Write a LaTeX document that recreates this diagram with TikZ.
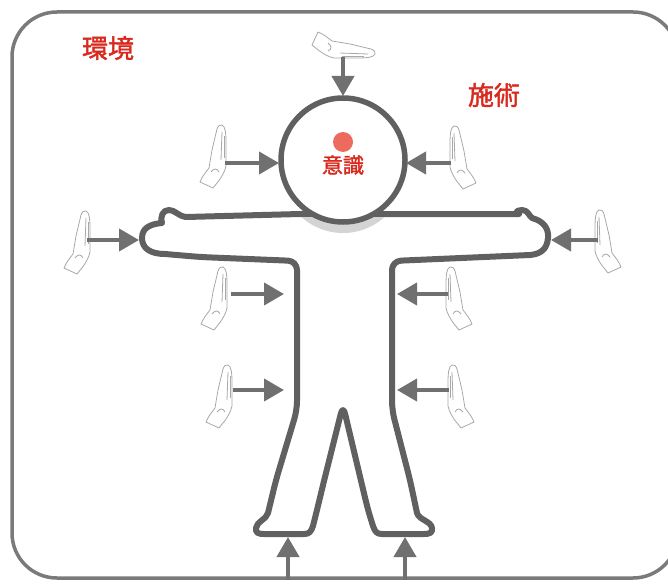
\documentclass[tikz,border=0pt]{standalone}
\usepackage{fontspec}
\newfontfamily\cjk{Noto Sans CJK JP}[FakeBold=1.6]
\usetikzlibrary{arrows.meta}
\definecolor{framegray}{HTML}{7A7A7A}
\definecolor{bodygray}{HTML}{606060}
\definecolor{arrowgray}{HTML}{707070}
\definecolor{handgray}{HTML}{A8A8A8}
\definecolor{shadegray}{HTML}{D4D4D4}
\definecolor{labelred}{HTML}{D9291E}
\definecolor{dotred}{HTML}{EC6A5E}
\tikzset{
  frameline/.style={draw=framegray, line width=3.5pt, rounded corners=45pt},
  bodyline/.style={draw=bodygray, line width=6pt, line join=round},
  push/.style={draw=arrowgray, line width=4pt, -{Triangle[length=20pt,width=22pt]}},
  handline/.style={draw=handgray, line width=0.8pt, line join=round, fill=white},
  label/.style={text=labelred, font=\cjk\fontsize{26}{26}\selectfont, inner sep=0pt},
  hand/.pic={
    \draw[handline] (8,-31) .. controls (11,-30) and (12,-24) .. (12,-14)
      -- (12,10) .. controls (11,15) and (8,21) .. (3,27) -- (-1,32) -- (-14,26)
      .. controls (-12,21) and (-9,17) .. (-5,12) -- (-2,-6) -- (3,-27)
      .. controls (4,-30) and (6,-32) .. (8,-31) -- cycle;
    \draw[handline] (8,-24) -- (7,4);
    \draw[handline] (10,-20) -- (10,2);
    \draw[handline] (-3,16) .. controls (0,12) and (3,12) .. (5,16);
  }
}
\begin{document}
\begin{tikzpicture}[x=1pt,y=-1pt]
  \useasboundingbox (0,0) rectangle (668,583);
  % outer frame
  \draw[frameline] (12,12) rectangle (678,578);

  % labels
  \node[label] (env) at (108,48) {環境};
  \node[label] (treat) at (494,95) {施術};

  % body outline
  \draw[bodyline]
    (297,300) [rounded corners=9pt] -- (297,261) -- (200,257)
    [sharp corners] -- (165,254)
    .. controls (150,254) and (142,248) .. (142,238)
    .. controls (142,228) and (150,224) .. (162,223)
    .. controls (160,216) and (163,210) .. (169,210)
    .. controls (175,210) and (178,216) .. (186,217)
    [rounded corners=9pt] -- (300,214) -- (385,214) -- (510,214)
    [sharp corners] .. controls (514,214) and (516,210) .. (522,210)
    .. controls (528,210) and (529,216) .. (532,218)
    .. controls (543,221) and (549,228) .. (548,238)
    .. controls (547,249) and (541,254) .. (530,255)
    [rounded corners=9pt] -- (392,261) -- (392,410) -- (410,480)
    [sharp corners] -- (417,513)
    .. controls (419,520) and (431,521) .. (432,528)
    .. controls (433,533) and (429,534) .. (424,534)
    -- (382,534) .. controls (377,534) and (375,532) .. (373,526)
    [rounded corners=9pt] -- (368,510) -- (362,485) -- (343,405)
    -- (323,485) -- (317,510) [sharp corners] -- (313,526)
    .. controls (311,532) and (309,534) .. (304,534)
    -- (264,534) .. controls (259,534) and (255,533) .. (256,528)
    .. controls (257,521) and (266,520) .. (268,513)
    [rounded corners=9pt] -- (276,480) -- (297,410) -- cycle;

  % neck shadow and head
  \begin{scope}
    \clip (250,217) rectangle (440,245);
    \fill[shadegray] (343,171) circle[radius=62];
  \end{scope}
  \draw[draw=bodygray, line width=5.5pt, fill=white] (343,160) circle[radius=62];
  \coordinate (headtop) at (343,96);
  \coordinate (headleft) at (279,163);
  \coordinate (headright) at (406,163);
  \fill[dotred] (343,142) circle[radius=10];
  \node[label, font=\cjk\fontsize{21}{21}\selectfont] (mind) at (343,165) {意識};

  % hands
  \pic (hTop) at (344,46) [rotate=-90] {hand};
  \pic (hHeadL) at (214,156) {hand};
  \pic (hHeadR) [xscale=-1] at (462,157) {hand};
  \pic (hArmL) at (78,242) {hand};
  \pic (hArmR) [xscale=-1] at (607,241) {hand};
  \pic (hBodyLU) at (215,298) {hand};
  \pic (hBodyRU) [xscale=-1] at (458,298) {hand};
  \pic (hBodyLL) at (220,396) {hand};
  \pic (hBodyRL) [xscale=-1] at (460,396) {hand};

  % arrow anchors
  \coordinate (aTop) at (343,57);
  \coordinate (aHeadL) at (225,163);
  \coordinate (aHeadR) at (451,163);
  \coordinate (aArmL) at (87,240);
  \coordinate (tArmL) at (139,240);
  \coordinate (aArmR) at (598,240);
  \coordinate (tArmR) at (551,240);
  \coordinate (aBodyLU) at (231,294);
  \coordinate (tBodyLU) at (284,294);
  \coordinate (aBodyRU) at (448,294);
  \coordinate (tBodyRU) at (397,294);
  \coordinate (aBodyLL) at (233,390);
  \coordinate (tBodyLL) at (284,390);
  \coordinate (aBodyRL) at (449,390);
  \coordinate (tBodyRL) at (397,390);
  \coordinate (aFootL) at (288,580);
  \coordinate (tFootL) at (288,537);
  \coordinate (aFootR) at (405,580);
  \coordinate (tFootR) at (405,537);

  % pushing arrows
  \draw[push] (aTop) -- (headtop);
  \draw[push] (aHeadL) -- (headleft);
  \draw[push] (aHeadR) -- (headright);
  \draw[push] (aArmL) -- (tArmL);
  \draw[push] (aArmR) -- (tArmR);
  \draw[push] (aBodyLU) -- (tBodyLU);
  \draw[push] (aBodyRU) -- (tBodyRU);
  \draw[push] (aBodyLL) -- (tBodyLL);
  \draw[push] (aBodyRL) -- (tBodyRL);
  \draw[push] (aFootL) -- (tFootL);
  \draw[push] (aFootR) -- (tFootR);
\end{tikzpicture}
\end{document}
